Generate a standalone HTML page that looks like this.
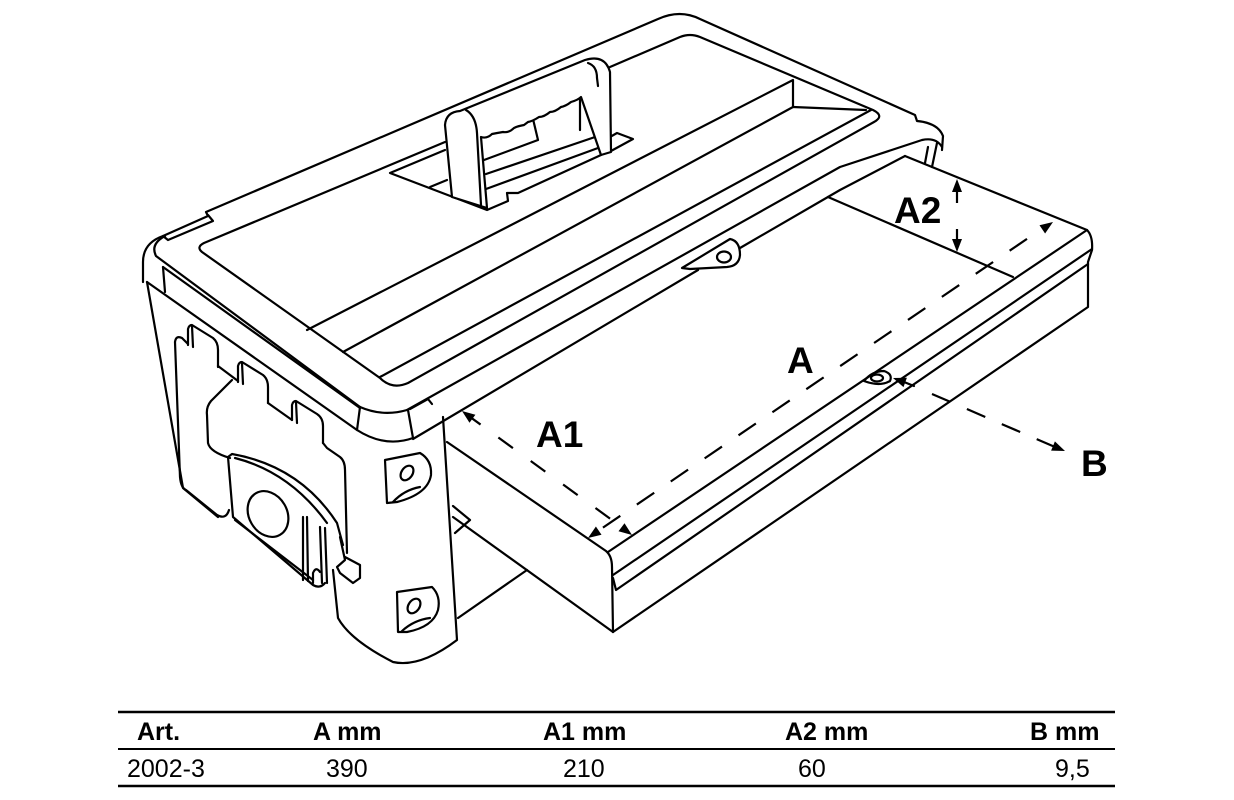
<!DOCTYPE html>
<html><head><meta charset="utf-8"><style>
html,body{margin:0;padding:0;background:#fff;}
svg{display:block;}
</style></head><body>
<svg width="1234" height="800" viewBox="0 0 1234 800" xmlns="http://www.w3.org/2000/svg">
<rect width="1234" height="800" fill="#fff"/>
<g fill="none" stroke="#000" stroke-width="2.2" stroke-linejoin="round" stroke-linecap="round">
<!-- LID outer back/right outline -->
<path d="M143,282 L143,262 Q143,243 163,236 L208,216 L206,212 L658,19 Q680,9 700,19 L915,115 L917,121 Q938,123 943,136 L942,150"/>
<path d="M163,236 L168,240 L213,221 L208,215"/>
<!-- lid top face left edge & band -->
<path d="M165,236 Q150,244 156,256 L360,407"/>
<path d="M163,267 L360,408"/>
<path d="M163,267 L165,292"/>
<path d="M147,282 L357,430"/>
<!-- front corner cap -->
<path d="M360,407 Q383,417 407,410"/>
<path d="M360,407 L357,430 Q385,448 413,438 L408,410"/>
<path d="M410,409 L428,399 L432,404"/>
<!-- lid front lines -->
<path d="M407,410 L840,167 L922,140 Q936,137 942,147"/>
<path d="M413,439 L698,270"/>
<path d="M740,248 L840,190 L905,156"/>
<path d="M937,143 L932,167 M928,147 L925,163"/>
<!-- inner border of lid top -->
<path d="M445,142 L204,243 Q196,247 202,252 L380,378 Q392,390 408,383 L874,122 Q885,116 873,110 L700,37 Q690,33 680,37 L610,67"/>
<!-- strips -->
<path d="M380,377 L871,110"/>
<path d="M343,352 L793,107 L793,80 L307,330"/>
<path d="M793,107 L866,110"/>
<!-- recess -->
<path d="M445,150 L390,173 L487,210 L508,201 L507,193 L518,193 L601,155"/>
<path d="M611,151 L633,139 L617,133 L610,137"/>
<path d="M430,187 L447,180"/>
<!-- lines seen through handle -->
<path d="M533,119 L538,140 M580,100 L580,130 M484,160 L538,140 M486,174 L598,136 M486,189 L598,148"/>
<!-- handle -->
<path fill="#fff" d="M452,197 L487,208 L481,137 q6,2 11,-3 q5,-1 11,-2 q6,1 11,-4 q4,-2 10,-3 l4,-3 q5,-1 11,-5 q5,0 11,-5 q5,0 11,-5 q5,-1 10,-5 q7,-2 10,-5 L601,155 L611,152 L610,72 Q605,54 585,60 L460,111 Q446,112 445,125 Z"/>
<path d="M466,110 Q476,116 477,133 L481,205"/>
<path d="M588,63 Q597,66 597,78 L598,86"/>
<!-- latch on lid front -->
<path d="M682,268 L730,239 Q740,241 740,255 Q739,266 727,267 L690,269 Z"/>
<ellipse cx="724" cy="257" rx="7" ry="5.5"/>
<!-- BODY left side -->
<path d="M147,282 L183,488 L218,517"/>
<path d="M175,342 Q176,335 182,338 L188,344"/>
<path d="M175,342 L180,477 Q181,488 186,490 L217,515 Q226,520 229,510"/>
<path d="M218,366 L238,381 M268,403 L292,420"/>
<!-- tabs -->
<path d="M188,345 L188,329 Q189,325 192,325 L213,338 Q218,342 218,350 L218,367 M193,347 L192,326"/>
<path d="M238,382 L238,366 Q239,362 242,362 L263,375 Q268,379 268,387 L268,403 M243,384 L242,363"/>
<path d="M292,420 L292,405 Q293,401 296,401 L317,414 Q323,418 323,426 L323,443 M297,423 L296,402"/>
<!-- handle contour -->
<path d="M232,380 L211,401 Q206,407 207,415 L208,443 Q210,452 230,458"/>
<path d="M323,443 L327,448 L340,457 Q345,461 345,470 L347,553"/>
<!-- latch plate -->
<path d="M228,457 L232,454 Q300,466 337,523 L343,545"/>
<path d="M235,458 Q290,472 327,523"/>
<path d="M228,457 L233,517 L313,585 Q320,589 325,583"/>
<path d="M235,520 L313,580"/>
<ellipse cx="268" cy="514" rx="24" ry="19" transform="rotate(60 268 514)"/>
<path d="M303,517 L303,580 M307,517 L308,581 M320,527 L322,583 M325,528 L327,583"/>
<path d="M313,583 L313,573 Q316,566 320,572"/>
<path d="M340,537 L345,560 L337,567 L340,573 L353,583 L360,578 L360,565 L345,557"/>
<!-- corner post -->
<path d="M333,570 L338,618 Q350,640 393,662 Q420,668 457,640 L443,417"/>
<path d="M385,460 L420,453 Q432,460 431,475 Q428,494 397,502 L387,503 Z"/>
<path d="M393,502 Q404,490 420,487"/>
<ellipse cx="407" cy="473" rx="5.5" ry="8" transform="rotate(35 407 473)"/>
<path d="M397,592 L432,587 Q441,596 438,610 Q433,627 407,632 L398,632 Z"/>
<path d="M402,631 Q414,620 430,618"/>
<ellipse cx="414" cy="606" rx="5.5" ry="8" transform="rotate(35 414 606)"/>
<!-- body behind drawer -->
<path d="M458,618 L527,570"/>
<path d="M453,506 L470,520 L455,533"/>
<!-- DRAWER -->
<path d="M447,442 L606,551 Q612,556 612,567 L613,632"/>
<path d="M453,517 L613,632"/>
<path d="M608,552 L1087,230 Q1093,236 1092,250 L1088,262 L1088,307 L613,632"/>
<path d="M613,575 L1092,249"/>
<path d="M613,578 L616,590 L1088,264"/>
<path d="M905,156 L1087,230"/>
<path d="M828,197 L1013,277"/>
<!-- eyelet -->
<path d="M864,381 Q872,371 884,371 Q893,374 890,381 Q880,387 864,381 Z"/>
<ellipse cx="877" cy="378" rx="6" ry="3.5"/>
<path d="M904,382 L914,386"/>
</g>
<!-- dashed dimension lines -->
<g fill="none" stroke="#000" stroke-width="2.2">
<line x1="598" y1="531" x2="1043" y2="228" stroke-dasharray="21 20" stroke-dashoffset="-6"/>
<line x1="466" y1="414" x2="623" y2="528" stroke-dasharray="18 22"/>
<line x1="932" y1="394" x2="1055" y2="447" stroke-dasharray="20 18"/>
<line x1="957" y1="190" x2="957" y2="203"/>
<line x1="957" y1="229" x2="957" y2="241"/>
</g>
<g fill="#000" stroke="none">
<polygon points="957,179 952,192 962,192"/>
<polygon points="957,252 952,239 962,239"/>
<polygon points="1053,222 1045.1,233.5 1039.5,225.3"/>
<polygon points="588,538 601.5,534.7 595.9,526.5"/>
<polygon points="462,411 475.4,414.7 469.5,422.7"/>
<polygon points="632,535 624.5,523.3 618.5,531.3"/>
<polygon points="1065,451 1051.1,450.6 1054.9,441.4"/>
<polygon points="893,378 906.9,377.7 903.5,387.1"/>
</g>
<!-- labels -->
<g font-family="'Liberation Sans', Arial, sans-serif" font-weight="bold" font-size="37" fill="#000">
<text x="787" y="373">A</text>
<text x="536" y="447">A1</text>
<text x="894" y="223">A2</text>
<text x="1081" y="476">B</text>
</g>
<!-- table -->
<g stroke="#000">
<line x1="118" y1="712" x2="1115" y2="712" stroke-width="2.5"/>
<line x1="118" y1="749" x2="1115" y2="749" stroke-width="2"/>
<line x1="118" y1="786" x2="1115" y2="786" stroke-width="2.5"/>
</g>
<g font-family="'Liberation Sans', Arial, sans-serif" font-size="25" fill="#000">
<g font-weight="bold">
<text x="137" y="740">Art.</text>
<text x="313" y="740">A mm</text>
<text x="543" y="740">A1 mm</text>
<text x="785" y="740">A2 mm</text>
<text x="1030" y="740">B mm</text>
</g>
<text x="127" y="777">2002-3</text>
<text x="326" y="777">390</text>
<text x="563" y="777">210</text>
<text x="798" y="777">60</text>
<text x="1055" y="777">9,5</text>
</g>
</svg>
</body></html>
